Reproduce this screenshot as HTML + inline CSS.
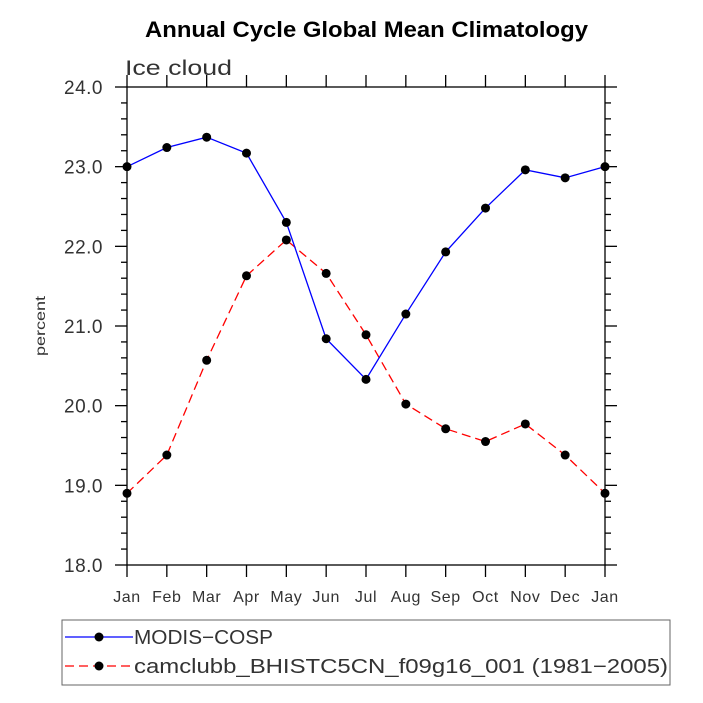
<!DOCTYPE html>
<html><head><meta charset="utf-8"><style>body{margin:0;background:#fff}svg{display:block}</style></head>
<body>
<svg id="chart" width="703" height="703" xmlns="http://www.w3.org/2000/svg" font-family="Liberation Sans, sans-serif">
<text x="145" y="37" textLength="443" lengthAdjust="spacingAndGlyphs" font-size="22" font-weight="bold">Annual Cycle Global Mean Climatology</text>
<text x="125" y="75" font-size="21" fill="#333" textLength="107" lengthAdjust="spacingAndGlyphs">Ice cloud</text>
<text transform="translate(45,326) rotate(-90)" text-anchor="middle" font-size="14" fill="#333" textLength="60" lengthAdjust="spacingAndGlyphs">percent</text>
<g id="axes"></g>
<g id="series"></g>
<g>
<rect x="62" y="620" width="608" height="65" fill="none" stroke="#666" stroke-width="1"/>
<g>
<line x1="65" y1="637" x2="133" y2="637" stroke="blue" stroke-width="1.3"/>
<circle cx="99" cy="637" r="4.5" fill="#000"/>
<text x="134" y="644" font-size="20" fill="#333" textLength="139" lengthAdjust="spacingAndGlyphs">MODIS−COSP</text>
</g>
<g>
<line x1="65" y1="666" x2="133" y2="666" stroke="red" stroke-width="1.3" stroke-dasharray="9,5"/>
<circle cx="99" cy="666" r="4.5" fill="#000"/>
<text x="134" y="673" font-size="20" fill="#333" textLength="534" lengthAdjust="spacingAndGlyphs">camclubb_BHISTC5CN_f09g16_001 (1981−2005)</text>
</g>
</g>
</svg>
<script>
const months=["Jan","Feb","Mar","Apr","May","Jun","Jul","Aug","Sep","Oct","Nov","Dec","Jan"];
const modis=[23.0,23.24,23.37,23.17,22.3,20.84,20.33,21.15,21.93,22.48,22.96,22.86,23.0];
const cam=[18.9,19.38,20.57,21.63,22.08,21.66,20.89,20.02,19.71,19.55,19.77,19.38,18.9];
const yTicks=["18.0","19.0","20.0","21.0","22.0","23.0","24.0"];
const L=127,R=605,T=87,B=565,ymin=18,ymax=24;
const NS="http://www.w3.org/2000/svg";
function X(i){return L+(R-L)*i/(months.length-1);}
function Y(v){return B-(v-ymin)/(ymax-ymin)*(B-T);}
function mk(t,a,p){const e=document.createElementNS(NS,t);for(const k in a)e.setAttribute(k,a[k]);p.appendChild(e);return e;}
const ax=document.getElementById('axes');
const fr=mk('rect',{x:L,y:T,width:R-L,height:B-T,fill:'none',stroke:'#000','stroke-width':1.3},ax);


months.forEach((m,i)=>{
 const x=X(i);
 mk('line',{x1:x,y1:B,x2:x,y2:B+12,stroke:'#000','stroke-width':1.3},ax);
 mk('line',{x1:x,y1:T,x2:x,y2:T-12,stroke:'#000','stroke-width':1.3},ax);
 const t=mk('text',{x:x,y:B+37,'text-anchor':'middle','font-size':16,fill:'#333','letter-spacing':0.6},ax);
 t.textContent=m;
 
 
});
for(let v=ymin;v<=ymax+1e-6;v+=0.2){
 const y=Y(v);const major=Math.abs(v-Math.round(v))<1e-6;const len=major?12:6;
 mk('line',{x1:L,y1:y,x2:L-len,y2:y,stroke:'#000','stroke-width':1.3},ax);
 mk('line',{x1:R,y1:y,x2:R+len,y2:y,stroke:'#000','stroke-width':1.3},ax);
}
yTicks.forEach(s=>{
 const t=mk('text',{x:103,y:Y(parseFloat(s))+7,'text-anchor':'end','font-size':19,fill:'#333','letter-spacing':0.5},ax);
 t.textContent=s;
 
 
});
const sg=document.getElementById('series');
function draw(vals,color,dash,name){
 const g=mk('g',{},sg);
 
 
 const a={points:vals.map((v,i)=>X(i)+','+Y(v)).join(' '),fill:'none',stroke:color,'stroke-width':1.3};
 if(dash)a['stroke-dasharray']=dash;
 mk('polyline',a,g);
 vals.forEach((v,i)=>{
  const c=mk('circle',{cx:X(i),cy:Y(v),r:4.5,fill:'#000'},g);
  
  
 });
}
draw(cam,'red','9,5','series-cam');
draw(modis,'blue',null,'series-modis');
</script>
</body></html>
